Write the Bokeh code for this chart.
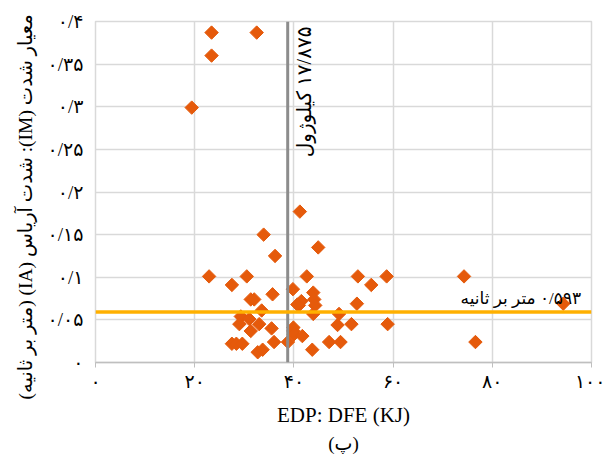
import math

from bokeh.embed import file_html
from bokeh.models import FixedTicker, Label, Range1d, Span, Title
from bokeh.plotting import figure
from bokeh.resources import INLINE

# Dissipated energy per record (EDP: DFE, kJ)
dfe_kj = [
    23.4, 32.5, 23.4, 19.4, 41.2, 33.9, 44.9, 36.2, 22.9, 30.5,
    42.6, 52.9, 58.7, 74.3, 27.5, 55.6, 39.8, 35.7, 43.9, 31.3,
    32.0, 41.5, 44.1, 52.7, 94.3, 41.0, 44.3, 40.7, 33.5, 43.9,
    49.1, 29.3, 31.0, 29.0, 33.0, 48.8, 51.6, 58.9, 35.5, 39.9,
    31.3, 39.9, 40.0, 41.7, 27.5, 28.4, 29.6, 36.0, 38.8, 47.1,
    49.4, 76.6, 32.7, 33.7, 43.7,
]
# Arias intensity per record (IM: IA, m/s)
ia_ms = [
    0.387, 0.387, 0.360, 0.299, 0.177, 0.150, 0.135, 0.125, 0.101, 0.101,
    0.101, 0.101, 0.101, 0.101, 0.091, 0.091, 0.086, 0.080, 0.082, 0.074,
    0.074, 0.072, 0.074, 0.069, 0.069, 0.067, 0.067, 0.068, 0.061, 0.057,
    0.057, 0.054, 0.051, 0.045, 0.045, 0.044, 0.045, 0.045, 0.040, 0.041,
    0.037, 0.037, 0.033, 0.031, 0.022, 0.022, 0.022, 0.024, 0.024, 0.024,
    0.024, 0.024, 0.012, 0.015, 0.015,
]

x_ticks = [0, 20, 40, 60, 80, 100]
x_tick_labels = ["۰", "۲۰", "۴۰", "۶۰", "۸۰", "۱۰۰"]
y_ticks = [0, 0.05, 0.1, 0.15, 0.2, 0.25, 0.3, 0.35, 0.4]
y_tick_labels = ["۰", "۰/۰۵", "۰/۱", "۰/۱۵", "۰/۲", "۰/۲۵", "۰/۳", "۰/۳۵", "۰/۴"]

# Threshold lines and their captions
dfe_threshold = 38.75
ia_threshold = 0.0593
dfe_caption = "۱۷/۸۷۵ کیلوژول"
ia_caption = "۰/۵۹۳ متر بر ثانیه"

x_title = "EDP: DFE (KJ)"
y_title = "معیار شدت (IM): شدت آریاس (IA) (متر بر ثانیه)"
panel_tag = "(پ)"

RLE, PDF = "\u202b", "\u202c"
FONT = "Liberation Serif, DejaVu Sans"

p = figure(
    width=605, height=454,
    x_range=Range1d(0, 100), y_range=Range1d(0, 0.4),
    output_backend="svg", toolbar_location=None,
    min_border_left=95, min_border_right=14,
    min_border_top=21, min_border_bottom=91,
)
p.background_fill_color = "white"
p.border_fill_color = "white"
p.outline_line_color = "#D9D9D9"
p.outline_line_width = 1.5

p.xaxis.ticker = FixedTicker(ticks=x_ticks)
p.yaxis.ticker = FixedTicker(ticks=y_ticks)
p.xaxis.major_label_overrides = dict(zip(x_ticks, x_tick_labels))
p.yaxis.major_label_overrides = dict(zip(y_ticks, y_tick_labels))

for ax in (p.xaxis, p.yaxis):
    ax.major_label_text_font = FONT
    ax.major_label_text_font_size = "19px"
    ax.major_label_text_color = "black"
    ax.minor_tick_line_color = None

p.xaxis.axis_line_color = "#BFBFBF"
p.xaxis.axis_line_width = 1.5
p.xaxis.major_tick_line_color = "#BFBFBF"
p.xaxis.major_tick_in = 0
p.xaxis.major_tick_out = 5
p.xaxis.major_label_standoff = 3
p.xaxis.axis_label = x_title
p.xaxis.axis_label_text_font = FONT
p.xaxis.axis_label_text_font_style = "normal"
p.xaxis.axis_label_text_font_size = "21px"
p.xaxis.axis_label_text_color = "black"
p.xaxis.axis_label_standoff = 8

p.yaxis.axis_line_color = None
p.yaxis.major_tick_line_color = None
p.yaxis.major_label_standoff = 6

p.grid.grid_line_color = "#D9D9D9"
p.grid.grid_line_width = 1.5

p.scatter(
    dfe_kj, ia_ms, marker="square", angle=math.pi / 4, size=9.5,
    fill_color="#E55A0B", line_color="#E55A0B",
)

p.add_layout(Span(location=dfe_threshold, dimension="height",
                  line_color="#8C8C8C", line_width=3))
p.add_layout(Span(location=ia_threshold, dimension="width",
                  line_color="#FFB000", line_width=3.5))

p.add_layout(Label(
    x=dfe_threshold + 1.1, y=0.394, text=RLE + dfe_caption + PDF,
    angle=math.pi / 2, text_align="right", text_baseline="top",
    text_font=FONT, text_font_size="20px", text_color="black",
))
p.add_layout(Label(
    x=73.6, y=0.0753, text=RLE + ia_caption + PDF,
    text_align="left", text_baseline="alphabetic",
    text_font=FONT, text_font_size="17px", text_color="black",
))

# vertical axis title in the left margin, starting a little below the frame
p.add_layout(Title(
    text=RLE + y_title + PDF, align="left", offset=-37, standoff=18,
    text_font=FONT, text_font_size="19.5px", text_font_style="normal",
    text_color="black",
), "left")

# panel tag under the horizontal axis title
p.add_layout(Title(
    text=panel_tag, align="center", standoff=2,
    text_font=FONT, text_font_size="19px", text_font_style="normal",
    text_color="black",
), "below")

open("out.html", "w").write(file_html(p, INLINE))
